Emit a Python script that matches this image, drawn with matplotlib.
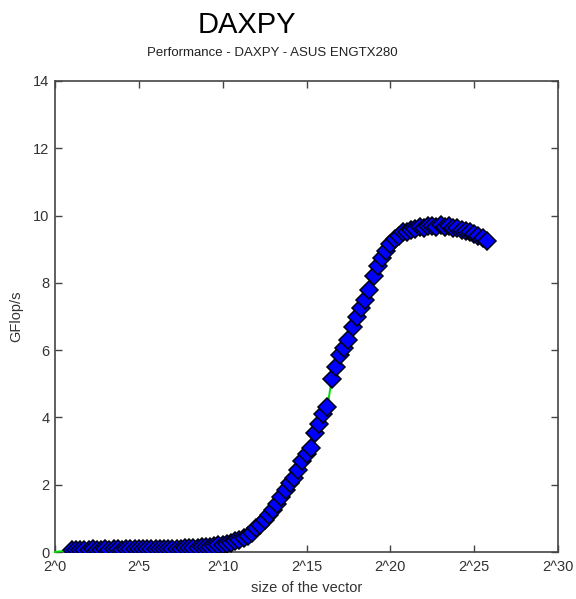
import matplotlib
matplotlib.use("Agg")
import matplotlib.pyplot as plt
import numpy as np

# vector size exponents (log2 of size); first point is line-only
start_exp = [0.0]
start_gflops = [0.0]
log2_size = np.arange(1.0, 25.8, 0.25)
gflops = [
    0.06, 0.07, 0.07, 0.07, 0.07, 0.08, 0.07, 0.07,
    0.08, 0.07, 0.08, 0.08, 0.07, 0.08, 0.08, 0.08,
    0.08, 0.09, 0.08, 0.09, 0.09, 0.09, 0.10, 0.09,
    0.10, 0.10, 0.10, 0.11,
    0.11, 0.12, 0.13, 0.14, 0.15, 0.16, 0.18, 0.20,
    0.22, 0.25, 0.28, 0.32, 0.37, 0.42, 0.48, 0.55,
    0.70, 0.80, 0.95, 1.10, 1.25, 1.42, 1.62, 1.85,
    2.05, 2.20, 2.45, 2.70, 2.90, 3.10, 3.55, 3.80,
    4.10, 4.30, 5.15, 5.50, 5.85, 6.05, 6.30, 6.70,
    7.00, 7.25, 7.50, 7.80, 8.20, 8.50, 8.75, 8.95,
    9.15, 9.30, 9.40, 9.50, 9.52, 9.58, 9.60, 9.65,
    9.62, 9.70, 9.68, 9.66, 9.72, 9.65, 9.68, 9.62,
    9.63, 9.58, 9.55, 9.50, 9.45, 9.40, 9.32, 9.25,
]
xtick_pos = [0, 5, 10, 15, 20, 25, 30]
xtick_labels = ["2^0", "2^5", "2^10", "2^15", "2^20", "2^25", "2^30"]
ytick_pos = [0, 2, 4, 6, 8, 10, 12, 14]

plt.rcParams["font.family"] = ["Liberation Sans", "DejaVu Sans"]

fig = plt.figure(figsize=(5.76, 5.99), dpi=100)
ax = fig.add_axes([55 / 576, 1 - 552 / 599, 503 / 576, 471 / 599])

line_x = np.concatenate([start_exp, log2_size])
line_y = np.concatenate([start_gflops, gflops])
# green line drawn above the spines so the start at y=0 stays visible
ax.plot(line_x, line_y, color="#00dd00", linewidth=1.4, zorder=2.6,
        clip_on=False)
ax.plot(log2_size, gflops, linestyle="none", marker="D", markersize=9.5,
        markerfacecolor="#0000ff", markeredgecolor="#00000f",
        markeredgewidth=1.1, zorder=3)

ax.set_xlim(0, 30)
ax.set_ylim(0, 14)
ax.set_xticks(xtick_pos)
ax.set_xticklabels(xtick_labels)
ax.set_yticks(ytick_pos)

for s in ax.spines.values():
    s.set_color("#444444")
    s.set_linewidth(1.2)
ax.tick_params(direction="in", length=5, width=1, colors="#444444",
               labelcolor="#333333", labelsize=10.5, top=True, right=True)
ax.tick_params(axis="x", pad=6)
ax.tick_params(axis="y", pad=4)

ax.set_xlabel("size of the vector", fontsize=10.5, color="#333333", labelpad=5)
ax.set_ylabel("GFlop/s", fontsize=10.5, color="#333333", labelpad=7)

fig.text(272 / 576, 1 - 53 / 599, "Performance - DAXPY - ASUS ENGTX280",
         ha="center", va="center", fontsize=9.5, color="#222222")
fig.text(247 / 576, 1 - 25 / 599, "DAXPY", ha="center", va="center",
         fontsize=21, color="black")

fig.savefig("out.png", dpi=100)
